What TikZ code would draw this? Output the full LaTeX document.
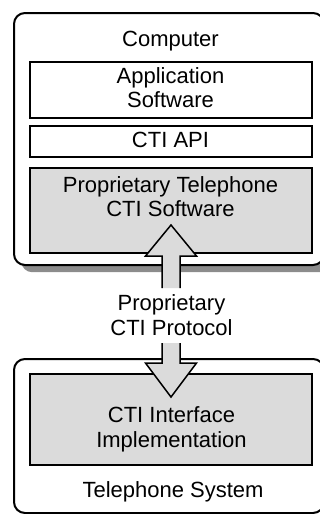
\documentclass[tikz,border=0pt]{standalone}
\usepackage{fontspec}
\setmainfont{Liberation Sans}
\definecolor{boxgray}{gray}{0.86}
\definecolor{shadowgray}{gray}{0.55}
\begin{document}
\begin{tikzpicture}[x=1pt,y=-1pt,
  outerbox/.style={draw=black, line width=2pt, rounded corners=11pt, fill=white, inner sep=0pt, anchor=north west},
  shadowbox/.style={fill=shadowgray, rounded corners=11pt, inner sep=0pt, anchor=north west},
  layerbox/.style={draw=black, line width=2pt, fill=white, inner sep=0pt, anchor=north west},
  greybox/.style={layerbox, fill=boxgray},
  lbl/.style={font=\fontsize{22}{24.5}\selectfont, align=center, inner sep=0pt, anchor=north},
  blockarrow/.style={draw=black, line width=1.5pt, line join=miter},
  blockfill/.style={fill=boxgray}
]
\useasboundingbox (0,0) rectangle (320,514);
\clip (0,0) rectangle (320,514);
% Computer
\node[shadowbox, minimum width=310pt, minimum height=252pt] (compshadow) at (21,20) {};
\node[outerbox, minimum width=310pt, minimum height=252pt] (computer) at (13,12) {};
\node[layerbox, minimum width=282pt, minimum height=56pt] (app) at (29,61) {};
\node[layerbox, minimum width=282pt, minimum height=31pt] (api) at (29,125) {};
\node[greybox, minimum width=282pt, minimum height=85pt] (prop) at (29,167) {};
% Telephone system
\node[outerbox, minimum width=310pt, minimum height=154pt] (tel) at (13,358) {};
\node[greybox, minimum width=282pt, minimum height=91pt] (iface) at (29,373) {};
% block arrows
\coordinate (up0) at (171,288);
\coordinate (upTip) at (171,225);
\coordinate (dn0) at (171,343);
\coordinate (dnTip) at (171,397);
\fill[blockfill] ([xshift=-9pt]up0) -- ([xshift=-9pt]up0 |- 0,256) -- ([xshift=-25.5pt]up0 |- 0,256) -- (upTip)
  -- ([xshift=25.5pt]up0 |- 0,256) -- ([xshift=9pt]up0 |- 0,256) -- ([xshift=9pt]up0) -- cycle;
\draw[blockarrow] ([xshift=-9pt]up0) -- ([xshift=-9pt]up0 |- 0,256) -- ([xshift=-25.5pt]up0 |- 0,256) -- (upTip)
  -- ([xshift=25.5pt]up0 |- 0,256) -- ([xshift=9pt]up0 |- 0,256) -- ([xshift=9pt]up0);
\fill[blockfill] ([xshift=-9pt]dn0) -- ([xshift=-9pt]dn0 |- 0,363) -- ([xshift=-25.5pt]dn0 |- 0,363) -- (dnTip)
  -- ([xshift=25.5pt]dn0 |- 0,363) -- ([xshift=9pt]dn0 |- 0,363) -- ([xshift=9pt]dn0) -- cycle;
\draw[blockarrow] ([xshift=-9pt]dn0) -- ([xshift=-9pt]dn0 |- 0,363) -- ([xshift=-25.5pt]dn0 |- 0,363) -- (dnTip)
  -- ([xshift=25.5pt]dn0 |- 0,363) -- ([xshift=9pt]dn0 |- 0,363) -- ([xshift=9pt]dn0);
% labels
\node[lbl] (tcomp) at (170.5,30.5) {Computer};
\node[lbl] (tapp) at (170.5,67) {Application\\Software};
\node[lbl] (tapi) at (170.5,131.5) {CTI API};
\node[lbl] (tprop) at (170.5,176) {Proprietary Telephone\\CTI Software};
\node[lbl] (tproto) at (171.5,294.5) {Proprietary\\CTI Protocol};
\node[lbl] (tiface) at (171.5,406.5) {CTI Interface\\Implementation};
\node[lbl] (ttel) at (173,481.5) {Telephone System};
\end{tikzpicture}
\end{document}
